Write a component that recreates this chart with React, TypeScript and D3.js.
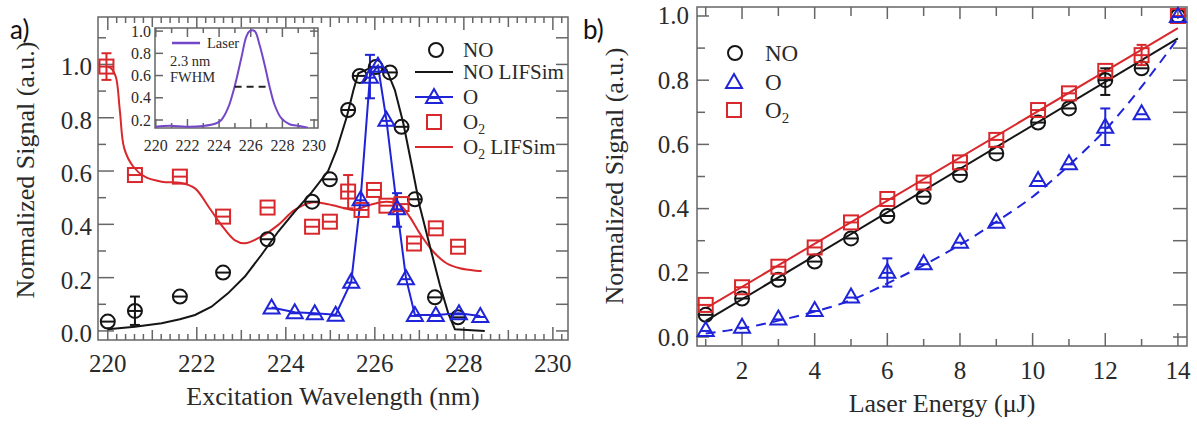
import React from "react";
import * as d3 from "d3";

type P = [number, number];
type E = [number, number, number];

// ---------------- Panel a: excitation scan ----------------
const aNO: P[] = [
  [220.0, 0.035], [220.61, 0.075], [221.62, 0.129], [222.59, 0.219], [223.59, 0.344],
  [224.59, 0.485], [224.99, 0.569], [225.40, 0.829], [225.66, 0.957], [226.02, 0.99],
  [226.34, 0.97], [226.6, 0.766], [226.9, 0.494], [227.35, 0.126], [227.87, 0.051],
];
const aNOSim: P[] = [
  [220.0, 0.006], [220.61, 0.016], [221.21, 0.029], [221.62, 0.044], [221.96, 0.06],
  [222.33, 0.091], [222.7, 0.141], [223.08, 0.204], [223.45, 0.285], [223.83, 0.373],
  [224.2, 0.448], [224.58, 0.52], [224.95, 0.6], [225.14, 0.679], [225.37, 0.804],
  [225.52, 0.904], [225.63, 0.967], [225.89, 0.986], [226.07, 0.992], [226.26, 0.982],
  [226.45, 0.904], [226.64, 0.779], [226.82, 0.629], [227.01, 0.467], [227.24, 0.316],
  [227.46, 0.173], [227.65, 0.066], [227.8, 0.006], [228.47, 0.0],
];
const aO: P[] = [
  [223.68, 0.088], [224.2, 0.07], [224.65, 0.066], [225.12, 0.061], [225.47, 0.185],
  [225.68, 0.494], [225.89, 0.954], [226.07, 0.995], [226.26, 0.792], [226.5, 0.46],
  [226.7, 0.198], [226.9, 0.06], [227.37, 0.06], [227.89, 0.066], [228.37, 0.056],
];
const aO2: P[] = [
  [219.97, 0.992], [220.61, 0.585], [221.62, 0.579], [222.59, 0.429], [223.59, 0.463],
  [224.59, 0.391], [224.99, 0.41], [225.4, 0.523], [225.7, 0.454], [225.98, 0.529],
  [226.26, 0.47], [226.6, 0.476], [226.88, 0.328], [227.37, 0.385], [227.87, 0.316],
];
const aO2Sim: P[] = [
  [220.0, 0.99], [220.07, 0.986], [220.18, 0.954], [220.27, 0.829], [220.37, 0.685],
  [220.57, 0.617], [220.83, 0.579], [221.21, 0.56], [221.65, 0.555], [221.96, 0.535],
  [222.26, 0.467], [222.55, 0.398], [222.85, 0.341], [223.08, 0.329], [223.45, 0.354],
  [223.83, 0.398], [224.2, 0.454], [224.58, 0.482], [224.95, 0.475], [225.33, 0.46],
  [225.52, 0.454], [225.89, 0.473], [226.26, 0.485], [226.56, 0.473], [226.78, 0.429],
  [227.01, 0.366], [227.31, 0.298], [227.61, 0.254], [227.91, 0.235], [228.28, 0.226],
  [228.4, 0.225],
];
const aErrNO: E[] = [[220.61, 0.0225, 0.129]];
const aErrO2: E[] = [[219.97, 0.942, 1.042], [225.4, 0.46, 0.585]];
const aErrO: E[] = [[225.89, 0.873, 1.036], [226.5, 0.391, 0.517]];
const aXTicks = [220, 222, 224, 226, 228, 230];
const aYTicks = [0.0, 0.2, 0.4, 0.6, 0.8, 1.0];

// Inset: laser profile
const laser: P[] = [
  [220.0, 0.14], [220.88, 0.149], [221.93, 0.14], [222.99, 0.146], [223.83, 0.171],
  [224.14, 0.2], [224.56, 0.306], [224.98, 0.5], [225.4, 0.755], [225.72, 0.95],
  [225.93, 1.0], [226.25, 1.0], [226.56, 0.875], [226.88, 0.695], [227.19, 0.5],
  [227.51, 0.335], [227.93, 0.216], [228.45, 0.162], [229.08, 0.146], [229.61, 0.131],
];
const fwhm: P[] = [[224.98, 0.5], [227.19, 0.5]];
const insetXTicks = [220, 222, 224, 226, 228, 230];
const insetYTicks = [0.2, 0.4, 0.6, 0.8, 1.0];

// ---------------- Panel b: energy scan ----------------
const bX = [1, 2, 3, 4, 5, 6, 7, 8, 9, 10.15, 11, 12, 13, 14];
const bNO = [0.069, 0.12, 0.178, 0.235, 0.307, 0.377, 0.437, 0.505, 0.572, 0.668, 0.712, 0.8, 0.837, 1.0];
const bO2 = [0.1, 0.155, 0.219, 0.279, 0.357, 0.43, 0.481, 0.544, 0.614, 0.707, 0.759, 0.829, 0.878, 1.0];
const bO = [0.022, 0.032, 0.058, 0.084, 0.126, 0.203, 0.23, 0.297, 0.359, 0.489, 0.541, 0.655, 0.697, 1.0];
const bNOFit: P[] = [[1, 0.05], [14, 0.93]];
const bO2Fit: P[] = [[1, 0.089], [14, 0.962]];
const bOFit: P[] = [
  [1, 0.011], [2, 0.027], [3, 0.051], [4, 0.079], [5, 0.115], [6, 0.167], [7, 0.224],
  [8, 0.287], [9, 0.359], [10, 0.437], [11, 0.535], [12, 0.645], [13, 0.78], [14, 0.93],
];
const bErrNO: E[] = [[12, 0.754, 0.837]];
const bErrO2: E[] = [[13, 0.847, 0.91]];
const bErrO: E[] = [[6, 0.157, 0.245], [12, 0.598, 0.712]];
const bXTicks = [2, 4, 6, 8, 10, 12, 14];
const bYTicks = [0.0, 0.2, 0.4, 0.6, 0.8, 1.0];

// ---------------- styles ----------------
const SERIF = "'Liberation Serif', 'Times New Roman', serif";
const SANS = "Lato, 'Liberation Sans', sans-serif";
const TXT = "#2a2a2a";
const AX = "#666";
const BLACK = "#151515";
const RED = "#d8282c";
const BLUE = "#1f24d8";
const PURPLE = "#7447c8";

type Kind = "circle" | "square" | "triangle";

function Marker({ kind, x, y, color, bar = true }: { kind: Kind; x: number; y: number; color: string; bar?: boolean }) {
  const sw = 2;
  if (kind === "circle") {
    return (
      <g stroke={color} strokeWidth={sw} fill="none">
        <circle cx={x} cy={y} r={7} />
        {bar ? <line x1={x - 7} x2={x + 7} y1={y} y2={y} /> : null}
      </g>
    );
  }
  if (kind === "square") {
    return (
      <g stroke={color} strokeWidth={sw} fill="none">
        <rect x={x - 7} y={y - 7} width={14} height={14} />
        {bar ? <line x1={x - 7} x2={x + 7} y1={y} y2={y} /> : null}
      </g>
    );
  }
  return (
    <g stroke={color} strokeWidth={sw} fill="none" strokeLinejoin="miter">
      <path d={`M${x},${y - 8}L${x + 8},${y + 6}L${x - 8},${y + 6}Z`} />
      {bar ? <line x1={x - 5} x2={x + 5} y1={y + 1} y2={y + 1} /> : null}
    </g>
  );
}

function ErrBars({ data, sx, sy, color }: { data: E[]; sx: any; sy: any; color: string }) {
  return (
    <g stroke={color} strokeWidth={2}>
      {data.map((d, i) => {
        const x = sx(d[0]);
        return (
          <g key={i}>
            <line x1={x} x2={x} y1={sy(d[1])} y2={sy(d[2])} />
            <line x1={x - 5} x2={x + 5} y1={sy(d[1])} y2={sy(d[1])} />
            <line x1={x - 5} x2={x + 5} y1={sy(d[2])} y2={sy(d[2])} />
          </g>
        );
      })}
    </g>
  );
}

type Frame = { l: number; r: number; t: number; b: number };

function TickSet({
  vals, pos, len, side, f,
}: { vals: number[]; pos: (v: number) => number; len: (v: number, i: number) => number; side: "b" | "t" | "l" | "r"; f: Frame }) {
  return (
    <g stroke={AX} strokeWidth={1.5}>
      {vals.map((v, i) => {
        const p = pos(v);
        const L = len(v, i);
        if (side === "b") return <line key={i} x1={p} x2={p} y1={f.b} y2={f.b - L} />;
        if (side === "t") return <line key={i} x1={p} x2={p} y1={f.t} y2={f.t + L} />;
        if (side === "l") return <line key={i} x1={f.l} x2={f.l + L} y1={p} y2={p} />;
        return <line key={i} x1={f.r} x2={f.r - L} y1={p} y2={p} />;
      })}
    </g>
  );
}

function O2Label({ x, y, size, rest }: { x: number; y: number; size: number; rest?: string }) {
  return (
    <text x={x} y={y} fontSize={size} fontFamily={SERIF} fill={TXT}>
      O<tspan fontSize={size * 0.65} dy={size * 0.22}>2</tspan>
      {rest ? <tspan dy={-size * 0.22}>{rest}</tspan> : null}
    </text>
  );
}

export default function App() {
  // Panel a scales
  const fA: Frame = { l: 98, r: 568, t: 17, b: 340 };
  const xA = d3.scaleLinear().domain([219.78, 230.34]).range([fA.l, fA.r]);
  const yA = d3.scaleLinear().domain([-0.034, 1.178]).range([fA.b, fA.t]);
  // Panel b scales
  const fB: Frame = { l: 697, r: 1187, t: 7, b: 346 };
  const xB = d3.scaleLinear().domain([0.76, 14.25]).range([fB.l, fB.r]);
  const yB = d3.scaleLinear().domain([-0.028, 1.028]).range([fB.b, fB.t]);
  // Inset scales
  const fI: Frame = { l: 155, r: 318, t: 28, b: 128 };
  const xI = d3.scaleLinear().domain([219.95, 230.25]).range([fI.l, fI.r]);
  const yI = d3.scaleLinear().domain([0.128, 1.028]).range([fI.b, fI.t]);

  const linA = d3.line<P>().x((d) => xA(d[0])).y((d) => yA(d[1]));
  const smA = d3.line<P>().x((d) => xA(d[0])).y((d) => yA(d[1])).curve(d3.curveCatmullRom.alpha(0.5));
  const linB = d3.line<P>().x((d) => xB(d[0])).y((d) => yB(d[1]));
  const smB = d3.line<P>().x((d) => xB(d[0])).y((d) => yB(d[1])).curve(d3.curveCatmullRom.alpha(0.5));
  const smI = d3.line<P>().x((d) => xI(d[0])).y((d) => yI(d[1])).curve(d3.curveCatmullRom.alpha(0.5));

  const fmt1 = d3.format(".1f");
  const fmtD = d3.format("d");

  const aMinorX = d3.range(0, 52).map((i) => 220 + i * 0.2);
  const aLenX = (v: number) => {
    const k = Math.round((v - 220) * 5);
    return k % 10 === 0 ? 13 : k % 5 === 0 ? 10 : 6;
  };
  const aMinorY = d3.range(0, 12).map((i) => i / 10);
  const bMinorX = d3.range(1, 15);
  const bMinorY = d3.range(0, 11).map((i) => i / 10);
  const iMinorX = d3.range(220, 231);

  const bPts = (ys: number[]) => bX.map((x, i) => [x, ys[i]] as P);

  return (
    <svg width={1197} height={424} style={{ position: "absolute", left: 0, top: 0, background: "#fff" }}>
      <defs>
        <clipPath id="clipI">
          <rect x={fI.l} y={fI.t} width={fI.r - fI.l} height={fI.b - fI.t} />
        </clipPath>
      </defs>
      <rect x={0} y={0} width={1197} height={424} fill="#fff" />

      {/* ===== Panel a ===== */}
      <text x={10} y={39} fontFamily={SANS} fontSize={26} fill="#111">a)</text>
      <rect x={fA.l} y={fA.t} width={fA.r - fA.l} height={fA.b - fA.t} fill="none" stroke={AX} strokeWidth={1.5} />
      <TickSet vals={aMinorX} pos={xA} len={aLenX} side="b" f={fA} />
      <TickSet vals={aMinorX} pos={xA} len={aLenX} side="t" f={fA} />
      <TickSet vals={aMinorY} pos={yA} len={(v, i) => (i % 2 === 0 ? 16 : 8)} side="l" f={fA} />
      <TickSet vals={aMinorY} pos={yA} len={() => 12} side="r" f={fA} />
      {aXTicks.map((v) => (
        <text key={v} x={xA(v)} y={372} textAnchor="middle" fontFamily={SERIF} fontSize={25} fill={TXT}>{fmtD(v)}</text>
      ))}
      {aYTicks.map((v) => (
        <text key={v} x={92} y={yA(v) + 11} textAnchor="end" fontFamily={SERIF} fontSize={25} fill={TXT}>{fmt1(v)}</text>
      ))}
      <text x={333} y={405} textAnchor="middle" fontFamily={SERIF} fontSize={26} fill={TXT}>Excitation Wavelength (nm)</text>
      <text transform="translate(25,170) rotate(-90)" dy="0.35em" textAnchor="middle" fontFamily={SERIF} fontSize={26} fill={TXT}>Normalized Signal (a.u.)</text>

      {/* curves */}
      <path d={smA(aO2Sim) || ""} fill="none" stroke={RED} strokeWidth={2} />
      <path d={linA(aNOSim) || ""} fill="none" stroke={BLACK} strokeWidth={2} />
      <path d={linA(aO) || ""} fill="none" stroke={BLUE} strokeWidth={2} />
      <ErrBars data={aErrNO} sx={xA} sy={yA} color={BLACK} />
      <ErrBars data={aErrO2} sx={xA} sy={yA} color={RED} />
      <ErrBars data={aErrO} sx={xA} sy={yA} color={BLUE} />
      {aNO.map((d, i) => <Marker key={"an" + i} kind="circle" x={xA(d[0])} y={yA(d[1])} color={BLACK} />)}
      {aO2.map((d, i) => <Marker key={"ar" + i} kind="square" x={xA(d[0])} y={yA(d[1])} color={RED} />)}
      {aO.map((d, i) => <Marker key={"ab" + i} kind="triangle" x={xA(d[0])} y={yA(d[1])} color={BLUE} />)}

      {/* legend a */}
      <Marker kind="circle" x={436} y={50} color={BLACK} bar={false} />
      <text x={463} y={57} fontFamily={SERIF} fontSize={21} fill={TXT}>NO</text>
      <line x1={415} x2={453} y1={72} y2={72} stroke={BLACK} strokeWidth={2} />
      <text x={463} y={79} fontFamily={SERIF} fontSize={21} fill={TXT}>NO LIFSim</text>
      <line x1={415} x2={453} y1={97} y2={97} stroke={BLUE} strokeWidth={2} />
      <Marker kind="triangle" x={434} y={97} color={BLUE} />
      <text x={463} y={104} fontFamily={SERIF} fontSize={21} fill={TXT}>O</text>
      <Marker kind="square" x={434} y={122} color={RED} bar={false} />
      <O2Label x={463} y={129} size={21} />
      <line x1={415} x2={453} y1={147} y2={147} stroke={RED} strokeWidth={2} />
      <O2Label x={463} y={154} size={21} rest=" LIFSim" />

      {/* inset */}
      <rect x={fI.l} y={fI.t} width={fI.r - fI.l} height={fI.b - fI.t} fill="#fff" stroke={AX} strokeWidth={1.5} />
      <TickSet vals={iMinorX} pos={xI} len={(v) => (v % 2 === 0 ? 9 : 5)} side="b" f={fI} />
      <TickSet vals={iMinorX} pos={xI} len={(v) => (v % 2 === 0 ? 9 : 5)} side="t" f={fI} />
      <TickSet vals={insetYTicks} pos={yI} len={() => 8} side="l" f={fI} />
      <TickSet vals={insetYTicks} pos={yI} len={() => 8} side="r" f={fI} />
      {insetXTicks.map((v) => (
        <text key={v} x={xI(v)} y={151} textAnchor="middle" fontFamily={SERIF} fontSize={16} fill={TXT}>{fmtD(v)}</text>
      ))}
      {insetYTicks.map((v) => (
        <text key={v} x={151} y={yI(v) + 5.5} textAnchor="end" fontFamily={SERIF} fontSize={16} fill={TXT}>{fmt1(v)}</text>
      ))}
      <g clipPath="url(#clipI)">
        <path d={smI(laser) || ""} fill="none" stroke={PURPLE} strokeWidth={2} />
      </g>
      <path d={d3.line<P>().x((d) => xI(d[0])).y((d) => yI(d[1]))(fwhm) || ""} fill="none" stroke="#222" strokeWidth={2} strokeDasharray="7,5" />
      <line x1={172} x2={200} y1={43} y2={43} stroke={PURPLE} strokeWidth={2.5} />
      <text x={207} y={48} fontFamily={SERIF} fontSize={14.5} fill={TXT}>Laser</text>
      <text x={170} y={66} fontFamily={SERIF} fontSize={14.5} fill={TXT}>2.3 nm</text>
      <text x={170} y={82} fontFamily={SERIF} fontSize={14.5} fill={TXT}>FWHM</text>

      {/* ===== Panel b ===== */}
      <text x={583} y={39} fontFamily={SANS} fontSize={26} fill="#111">b)</text>
      <rect x={fB.l} y={fB.t} width={fB.r - fB.l} height={fB.b - fB.t} fill="none" stroke={AX} strokeWidth={1.5} />
      <TickSet vals={bMinorX} pos={xB} len={(v) => (v % 2 === 0 ? 13 : 7)} side="b" f={fB} />
      <TickSet vals={bMinorX} pos={xB} len={(v) => (v % 2 === 0 ? 12 : 9)} side="t" f={fB} />
      <TickSet vals={bMinorY} pos={yB} len={(v, i) => (i % 2 === 0 ? 12 : 8)} side="l" f={fB} />
      <TickSet vals={bMinorY} pos={yB} len={() => 14} side="r" f={fB} />
      {bXTicks.map((v) => (
        <text key={v} x={xB(v)} y={379} textAnchor="middle" fontFamily={SERIF} fontSize={25} fill={TXT}>{fmtD(v)}</text>
      ))}
      {bYTicks.map((v) => (
        <text key={v} x={689} y={yB(v) + 8.5} textAnchor="end" fontFamily={SERIF} fontSize={25} fill={TXT}>{fmt1(v)}</text>
      ))}
      <text x={942} y={412} textAnchor="middle" fontFamily={SERIF} fontSize={26} fill={TXT}>Laser Energy (μJ)</text>
      <text transform="translate(614,176) rotate(-90)" dy="0.35em" textAnchor="middle" fontFamily={SERIF} fontSize={26} fill={TXT}>Normalized Signal (a.u.)</text>

      <path d={linB(bNOFit) || ""} fill="none" stroke={BLACK} strokeWidth={2} />
      <path d={linB(bO2Fit) || ""} fill="none" stroke={RED} strokeWidth={2} />
      <path d={smB(bOFit) || ""} fill="none" stroke={BLUE} strokeWidth={2} strokeDasharray="10,7" />
      <ErrBars data={bErrNO} sx={xB} sy={yB} color={BLACK} />
      <ErrBars data={bErrO2} sx={xB} sy={yB} color={RED} />
      <ErrBars data={bErrO} sx={xB} sy={yB} color={BLUE} />
      {bPts(bNO).map((d, i) => <Marker key={"bn" + i} kind="circle" x={xB(d[0])} y={yB(d[1])} color={BLACK} />)}
      {bPts(bO2).map((d, i) => <Marker key={"br" + i} kind="square" x={xB(d[0])} y={yB(d[1])} color={RED} />)}
      {bPts(bO).map((d, i) => <Marker key={"bb" + i} kind="triangle" x={xB(d[0])} y={yB(d[1])} color={BLUE} />)}

      {/* legend b */}
      <Marker kind="circle" x={735} y={53} color={BLACK} bar={false} />
      <text x={765} y={61} fontFamily={SERIF} fontSize={23} fill={TXT}>NO</text>
      <Marker kind="triangle" x={734} y={82} color={BLUE} bar={false} />
      <text x={765} y={90} fontFamily={SERIF} fontSize={23} fill={TXT}>O</text>
      <Marker kind="square" x={734} y={110} color={RED} bar={false} />
      <O2Label x={765} y={118} size={23} />
    </svg>
  );
}
